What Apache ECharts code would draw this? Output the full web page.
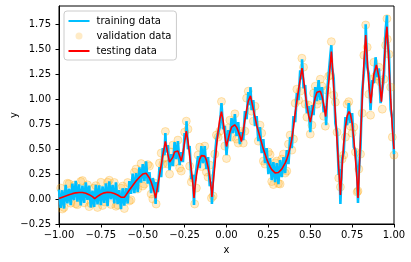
<!DOCTYPE html>
<html><head><meta charset="utf-8">
<script src="https://cdn.jsdelivr.net/npm/echarts@6/dist/echarts.min.js"></script>
<style>html,body{margin:0;padding:0;background:#fff}#c{width:411px;height:262px}</style>
</head><body><div id="c"></div>
<script>
// testing data (smooth curve)
const testX = [-1,-0.99,-0.98,-0.97,-0.96,-0.95,-0.94,-0.93,-0.92,-0.91,-0.9,-0.89,-0.88,-0.87,-0.86,-0.85,-0.84,-0.83,-0.82,-0.81,-0.8,-0.79,-0.787,-0.78,-0.77,-0.76,-0.75,-0.74,-0.73,-0.72,-0.71,-0.7,-0.69,-0.68,-0.67,-0.66,-0.65,-0.64,-0.63,-0.62,-0.618,-0.61,-0.6,-0.59,-0.58,-0.57,-0.56,-0.55,-0.54,-0.53,-0.52,-0.51,-0.5,-0.49,-0.48,-0.47,-0.46,-0.45,-0.44,-0.43,-0.423,-0.42,-0.41,-0.4,-0.39,-0.38,-0.37,-0.365,-0.36,-0.35,-0.34,-0.335,-0.33,-0.32,-0.31,-0.3,-0.29,-0.28,-0.27,-0.269,-0.26,-0.25,-0.24,-0.239,-0.23,-0.22,-0.21,-0.2,-0.194,-0.19,-0.18,-0.17,-0.16,-0.15,-0.14,-0.13,-0.12,-0.11,-0.1,-0.09,-0.087,-0.08,-0.07,-0.06,-0.05,-0.04,-0.03,-0.02,-0.01,0,0.01,0.02,0.03,0.04,0.049,0.06,0.07,0.08,0.089,0.1,0.11,0.12,0.13,0.143,0.15,0.16,0.17,0.18,0.19,0.2,0.21,0.22,0.23,0.24,0.25,0.26,0.27,0.28,0.29,0.3,0.31,0.32,0.33,0.34,0.35,0.36,0.37,0.38,0.39,0.4,0.41,0.42,0.43,0.44,0.451,0.46,0.47,0.48,0.49,0.5,0.51,0.52,0.53,0.54,0.55,0.56,0.57,0.58,0.592,0.6,0.61,0.62,0.626,0.63,0.64,0.65,0.66,0.67,0.68,0.69,0.7,0.71,0.72,0.731,0.74,0.75,0.76,0.77,0.78,0.785,0.79,0.8,0.81,0.82,0.831,0.84,0.85,0.861,0.87,0.88,0.895,0.91,0.925,0.94,0.95,0.958,0.97,0.98,0.99,1];
const testY = [0.005,0.012,0.018,0.025,0.031,0.037,0.043,0.049,0.054,0.058,0.062,0.064,0.066,0.066,0.065,0.062,0.058,0.052,0.044,0.035,0.024,0.012,0.004,0.014,0.026,0.038,0.048,0.056,0.062,0.066,0.068,0.068,0.066,0.062,0.056,0.048,0.04,0.03,0.019,0.01,0.004,0.018,0.04,0.065,0.09,0.112,0.135,0.158,0.18,0.2,0.218,0.235,0.25,0.26,0.258,0.245,0.21,0.17,0.12,0.06,0.008,0.04,0.14,0.24,0.34,0.44,0.53,0.576,0.54,0.45,0.37,0.353,0.36,0.42,0.47,0.49,0.48,0.43,0.38,0.376,0.46,0.57,0.68,0.693,0.58,0.44,0.29,0.14,0.01,0.09,0.23,0.33,0.4,0.435,0.443,0.43,0.39,0.32,0.22,0.09,0.02,0.15,0.33,0.52,0.68,0.8,0.876,0.78,0.64,0.526,0.6,0.67,0.72,0.74,0.743,0.72,0.68,0.63,0.576,0.68,0.79,0.89,0.98,1.033,0.98,0.9,0.82,0.74,0.68,0.62,0.56,0.5,0.45,0.4,0.36,0.325,0.295,0.275,0.262,0.26,0.265,0.28,0.3,0.33,0.36,0.4,0.45,0.52,0.6,0.72,0.86,0.98,1.09,1.2,1.31,1.2,1.06,0.94,0.84,0.77,0.85,0.94,1.02,1.07,1.09,1.08,1.03,0.95,0.826,0.97,1.16,1.36,1.476,1.4,1.12,0.85,0.58,0.31,0.04,0.32,0.56,0.72,0.83,0.876,0.85,0.76,0.6,0.4,0.17,0.01,0.18,0.6,0.98,1.35,1.643,1.4,1.15,0.96,1.1,1.25,1.343,1.22,0.976,1.32,1.6,1.726,1.35,1.0,0.72,0.5];

// training data (noisy)
const trainX = [-1,-0.99,-0.98,-0.97,-0.96,-0.95,-0.94,-0.93,-0.92,-0.91,
-0.9,-0.89,-0.88,-0.87,-0.86,-0.85,-0.84,-0.83,-0.82,-0.81,
-0.8,-0.79,-0.78,-0.77,-0.76,-0.75,-0.74,-0.73,-0.72,-0.71,
-0.7,-0.69,-0.68,-0.67,-0.66,-0.65,-0.64,-0.63,-0.62,-0.61,
-0.6,-0.59,-0.58,-0.57,-0.56,-0.55,-0.54,-0.53,-0.52,-0.51,
-0.5,-0.49,-0.48,-0.47,-0.46,-0.45,-0.44,-0.43,-0.423,-0.42,-0.41,
-0.4,-0.39,-0.38,-0.37,-0.365,-0.36,-0.35,-0.34,-0.33,-0.32,-0.31,
-0.3,-0.29,-0.28,-0.27,-0.26,-0.25,-0.24,-0.239,-0.23,-0.22,-0.21,
-0.2,-0.194,-0.19,-0.18,-0.17,-0.16,-0.15,-0.14,-0.13,-0.12,-0.11,
-0.1,-0.09,-0.087,-0.08,-0.07,-0.06,-0.05,-0.04,-0.03,-0.02,-0.01,
0,0.01,0.02,0.03,0.04,0.05,0.06,0.07,0.08,0.09,
0.1,0.11,0.12,0.13,0.14,0.143,0.15,0.16,0.17,0.18,0.19,
0.2,0.21,0.22,0.23,0.24,0.25,0.26,0.27,0.28,0.29,
0.3,0.31,0.32,0.33,0.34,0.35,0.36,0.37,0.38,0.39,
0.4,0.41,0.42,0.43,0.44,0.45,0.451,0.46,0.47,0.48,0.49,
0.5,0.51,0.52,0.53,0.54,0.55,0.56,0.57,0.58,0.59,0.595,
0.6,0.61,0.62,0.626,0.63,0.64,0.65,0.66,0.67,0.675,0.68,0.69,
0.7,0.71,0.72,0.73,0.74,0.75,0.76,0.77,0.78,0.785,0.79,
0.8,0.81,0.82,0.83,0.831,0.84,0.85,0.86,0.87,0.88,0.89,
0.9,0.91,0.92,0.93,0.94,0.95,0.958,0.96,0.97,0.98,0.99,1];
const trainY = [0.095,-0.088,0.088,-0.095,0.141,-0.043,0.103,-0.061,0.154,-0.012,
0.182,-0.026,0.146,-0.064,0.135,-0.038,0.168,-0.008,0.134,-0.085,
0.084,-0.08,0.142,-0.054,0.138,-0.062,0.126,-0.038,0.156,-0.072,
0.178,-0.004,0.142,-0.044,0.168,-0.05,0.09,-0.101,0.108,-0.065,
0.11,-0.045,0.18,0.052,0.255,0.058,0.26,0.07,0.318,0.165,
0.35,0.18,0.378,0.155,0.27,0.06,0.21,0.14,-0.05,0.17,0.07,
0.32,0.22,0.51,0.44,0.66,0.47,0.54,0.29,0.45,0.33,0.57,
0.4,0.58,0.34,0.47,0.37,0.66,0.6,0.78,0.5,0.53,0.2,
0.24,-0.06,0.17,0.16,0.43,0.31,0.53,0.36,0.53,0.3,0.42,
0.13,0.17,-0.05,0.24,0.23,0.6,0.58,0.72,0.96,0.7,0.73,
0.44,0.69,0.58,0.81,0.66,0.85,0.63,0.77,0.55,0.67,
0.59,0.88,0.8,1.07,0.94,1.12,0.89,0.99,0.73,0.83,0.58,
0.72,0.46,0.6,0.36,0.51,0.25,0.41,0.19,0.37,0.17,
0.36,0.15,0.39,0.22,0.42,0.26,0.49,0.35,0.62,0.51,
0.83,0.77,1.06,0.99,1.29,1.2,1.4,1.11,1.14,0.86,0.93,
0.67,0.94,0.84,1.12,0.98,1.19,0.99,1.12,0.87,0.93,0.74,
1.06,1.08,1.44,1.54,1.32,1.21,0.76,0.67,0.24,0.3,-0.05,0.4,
0.47,0.82,0.74,0.96,0.76,0.86,0.52,0.49,0.26,-0.04,0.27,
0.52,1.08,1.26,1.52,1.75,1.32,1.25,0.89,1.19,1.16,1.42,
1.22,1.31,0.96,1.09,1.24,1.69,1.84,1.62,1.45,0.9,0.81,0.45];

// validation data (scatter)
const valX = [-0.99,-0.97,-0.95,-0.93,-0.91,-0.89,-0.87,-0.85,-0.83,-0.81,-0.79,-0.77,-0.75,-0.73,-0.71,-0.69,-0.67,-0.65,-0.63,-0.61,-0.59,-0.57,-0.55,-0.53,-0.51,-0.49,-0.47,-0.45,-0.43,-0.42,-0.4,-0.38,-0.365,-0.35,-0.33,-0.31,-0.29,-0.27,-0.25,-0.24,-0.22,-0.2,-0.19,-0.17,-0.15,-0.13,-0.11,-0.09,-0.07,-0.05,-0.03,-0.01,0.01,0.03,0.05,0.07,0.09,0.11,0.13,0.15,0.17,0.19,0.21,0.23,0.25,0.27,0.29,0.31,0.33,0.35,0.37,0.39,0.41,0.43,0.45,0.47,0.49,0.51,0.53,0.55,0.57,0.59,0.61,0.626,0.64,0.66,0.67,0.68,0.69,0.71,0.73,0.75,0.77,0.785,0.8,0.82,0.831,0.85,0.87,0.89,0.91,0.93,0.95,0.958,0.97,0.99,1,
-0.98,-0.94,-0.9,-0.86,-0.82,-0.78,-0.74,-0.7,-0.66,-0.62,-0.58,-0.54,-0.5,-0.46,-0.44,-0.39,-0.37,-0.34,-0.32,-0.28,-0.23,-0.21,-0.18,-0.16,-0.12,-0.1,-0.08,-0.06,-0.04,0,0.02,0.06,0.1,0.12,0.16,0.2,0.22,0.26,0.28,0.3,0.32,0.34,0.36,0.38,0.4,0.42,0.44,0.46,0.48,0.5,0.52,0.54,0.56,0.58,0.6,0.62,0.65,0.7,0.72,0.74,0.76,0.78,0.79,0.81,0.84,0.86,0.88,0.9,0.92,0.94,0.96,0.98];
const valY = [0.11,-0.085,0.157,-0.041,0.138,-0.056,0.176,-0.038,0.142,-0.045,0.11,-0.084,0.168,-0.028,0.168,-0.054,0.166,-0.06,0.109,-0.095,0.165,-0.008,0.268,0.1,0.355,0.15,0.345,0.05,0.16,-0.05,0.36,0.35,0.676,0.35,0.47,0.37,0.59,0.28,0.67,0.78,0.33,0.21,-0.05,0.44,0.325,0.53,0.22,0.01,0.45,0.62,0.976,0.53,0.71,0.62,0.853,0.56,0.68,0.68,1.08,0.88,0.93,0.58,0.66,0.35,0.47,0.175,0.362,0.155,0.4,0.26,0.55,0.49,0.96,0.99,1.41,0.95,0.94,0.74,1.13,0.99,1.13,0.73,1.23,1.576,1.04,0.67,0.21,0.12,0.4,0.62,0.975,0.66,0.47,0.08,0.45,1.44,1.743,1.05,1.2,1.23,1.32,0.9,1.54,1.806,1.45,0.62,0.44,
-0.1,0.153,-0.048,0.185,-0.076,0.134,-0.064,0.188,-0.072,0.13,-0.02,0.3,0.13,0.33,0.0,0.46,0.41,0.25,0.54,0.31,0.7,0.17,0.11,0.52,0.27,0.34,0.03,0.64,0.68,0.406,0.79,0.6,0.56,1.01,0.78,0.74,0.38,0.445,0.145,0.38,0.15,0.45,0.28,0.64,0.6,1.1,1.08,1.32,0.82,0.65,1.06,0.95,1.2,0.83,1.09,1.24,0.97,0.44,0.95,0.73,0.72,0.07,0.3,0.86,1.52,0.84,1.37,1.2,1.17,1.2,1.6,1.12];

const xTicks = [-1,-0.75,-0.5,-0.25,0,0.25,0.5,0.75,1];
const yTicks = [-0.25,0,0.25,0.5,0.75,1,1.25,1.5,1.75];

const zip = (a, b) => a.map((v, i) => [v, b[i]]);
const fmt = v => (Math.round(v * 100) / 100).toFixed(2).replace('-', '\u2212');
const FONT = 'DejaVu Sans';

const chart = echarts.init(document.getElementById('c'), null, {renderer: 'canvas'});
chart.setOption({
  animation: false,
  backgroundColor: '#fff',
  grid: {left: 59, right: 17, top: 6, bottom: 38, show: true, borderColor: '#000', borderWidth: 1, backgroundColor: 'transparent', outerBoundsMode: 'none', containLabel: false},
  xAxis: {
    type: 'value', min: -1, max: 1, interval: 0.25,
    axisLine: {show: true, onZero: false, lineStyle: {color: '#000', width: 1}},
    axisTick: {show: true, length: 3.5, lineStyle: {color: '#000', width: 1}, customValues: xTicks},
    axisLabel: {color: '#000', fontSize: 10, fontFamily: FONT, margin: 6, formatter: fmt, customValues: xTicks, showMinLabel: true, showMaxLabel: true},
    splitLine: {show: false},
    name: 'x', nameLocation: 'middle', nameGap: 21, nameMoveOverlap: false,
    nameTextStyle: {color: '#000', fontSize: 10, fontFamily: FONT}
  },
  yAxis: {
    type: 'value', min: -0.25, max: 1.933, interval: 0.25,
    axisLine: {show: true, onZero: false, lineStyle: {color: '#000', width: 1}},
    axisTick: {show: true, length: 3.5, lineStyle: {color: '#000', width: 1}, customValues: yTicks},
    axisLabel: {color: '#000', fontSize: 10, fontFamily: FONT, margin: 8, formatter: fmt, customValues: yTicks},
    splitLine: {show: false},
    name: 'y', nameLocation: 'middle', nameGap: 40, nameRotate: 90, nameMoveOverlap: false,
    nameTextStyle: {color: '#000', fontSize: 10, fontFamily: FONT}
  },
  legend: {
    left: 64, top: 11, orient: 'vertical',
    itemWidth: 21, itemHeight: 7, itemGap: 3,
    padding: [4, 5, 3, 3.5],
    backgroundColor: 'rgba(255,255,255,0.8)', borderColor: '#ccc', borderWidth: 1, borderRadius: 3,
    textStyle: {color: '#000', fontSize: 10, fontFamily: FONT, padding: [0, 0, 0, 2], lineHeight: 12},
    data: [
      {name: 'training data', itemStyle: {opacity: 0, color: 'transparent', borderWidth: 0}},
      {name: 'validation data', icon: 'circle', itemStyle: {color: 'rgba(255,165,0,0.28)', borderWidth: 0}},
      {name: 'testing data', itemStyle: {opacity: 0, color: 'transparent', borderWidth: 0}}
    ]
  },
  series: [
    {name: 'training data', type: 'line', data: zip(trainX, trainY), symbol: 'none', showSymbol: false,
     lineStyle: {color: '#00bfff', width: 2.6}, itemStyle: {color: '#00bfff'}, z: 3},
    {name: 'validation data', type: 'scatter', data: zip(valX, valY), symbol: 'circle', symbolSize: 8,
     itemStyle: {color: 'rgba(255,165,0,0.25)', borderColor: 'rgba(255,165,0,0.35)', borderWidth: 1}, z: 2},
    {name: 'testing data', type: 'line', data: zip(testX, testY), symbol: 'none', showSymbol: false,
     lineStyle: {color: '#ff0000', width: 1.6}, itemStyle: {color: '#ff0000'}, z: 4}
  ]
});
</script>
</body></html>
